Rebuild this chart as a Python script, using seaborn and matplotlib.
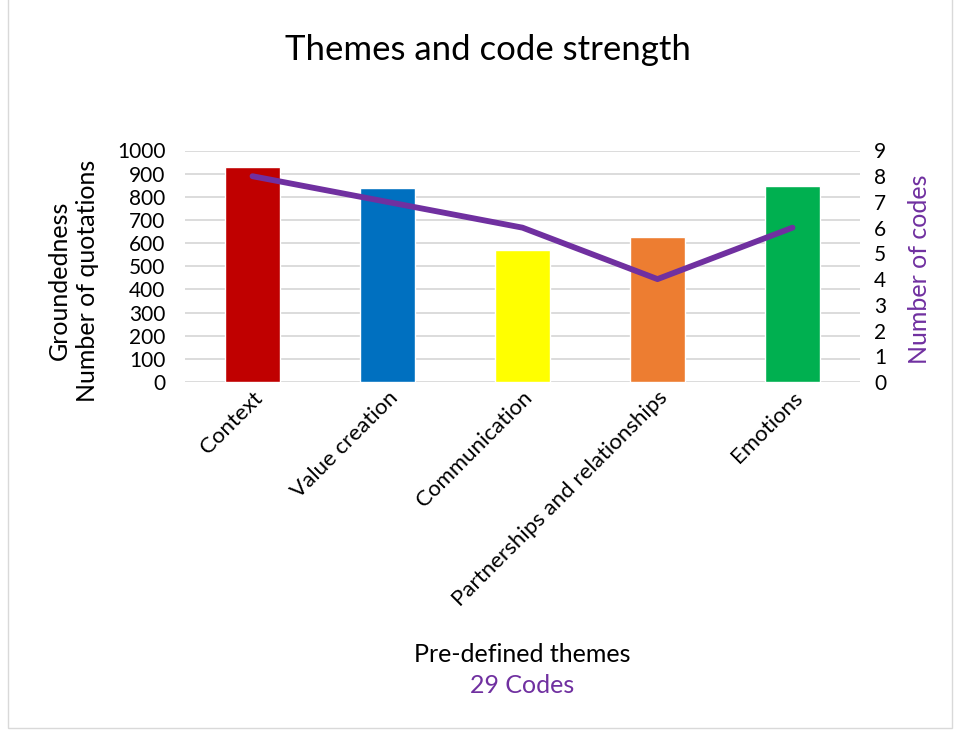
# Themes and code strength - bars (quotations) with a line (codes) on a twin axis

import matplotlib
matplotlib.use("Agg")
import matplotlib.pyplot as plt
from matplotlib.patches import Rectangle
import seaborn as sns

# Data
themes = ["Context", "Value creation", "Communication",
          "Partnerships and relationships", "Emotions"]
quotations = [930, 838, 572, 628, 848]
codes = [8, 7, 6, 4, 6]
bar_colors = ["#C00000", "#0070C0", "#FFFF00", "#ED7D31", "#00B050"]
line_color = "#7030A0"

sns.set_style("white")
plt.rcParams["font.family"] = ["Lato", "DejaVu Sans"]
plt.rcParams["text.color"] = "black"
plt.rcParams["xtick.color"] = "black"
plt.rcParams["ytick.color"] = "black"

fig = plt.figure(figsize=(9.55, 7.31), dpi=100)
ax = fig.add_axes([185 / 955, 1 - 382 / 731, 675 / 955, 231.5 / 731])

# bars
sns.barplot(x=themes, y=quotations, hue=themes, palette=bar_colors,
            width=0.41, legend=False, ax=ax, saturation=1)
ax.set_ylim(0, 1000)
ax.set_yticks(range(0, 1001, 100))
ax.yaxis.grid(True, color="#D9D9D9", linewidth=1.3)
ax.set_axisbelow(True)
ax.set_xlim(-0.5, 4.5)
for s in ax.spines.values():
    s.set_visible(False)
ax.tick_params(axis="y", labelsize=15, length=0, pad=14)
ax.tick_params(axis="x", labelsize=16, length=0, pad=4)
ax.set_xticks(range(len(themes)))
ax.set_xticklabels(themes, rotation=45, ha="right", rotation_mode="anchor")
ax.set_xlabel("")
ax.set_ylabel("")

# line on the secondary axis
ax2 = ax.twinx()
sns.pointplot(x=themes, y=codes, color=line_color, ax=ax2,
              markers="", linewidth=4.2)
ax2.set_ylim(0, 9)
ax2.set_yticks(range(0, 10))
ax2.set_xlim(-0.5, 4.5)
for s in ax2.spines.values():
    s.set_visible(False)
ax2.tick_params(axis="y", labelsize=15, length=0, pad=10)
ax2.set_ylabel("")
for ln in ax2.lines:
    ln.set_solid_capstyle("round")
    ln.set_solid_joinstyle("round")

# texts
fig.text(0.511, 0.932, "Themes and code strength", ha="center", va="center",
         fontsize=25)
fig.text(0.077, 0.616, "Groundedness\nNumber of quotations", ha="center",
         va="center", rotation=90, fontsize=18, linespacing=1.25)
fig.text(0.963, 0.632, "Number of codes", ha="center", va="center",
         rotation=90, fontsize=18, color=line_color)
fig.text(0.547, 0.104, "Pre-defined themes", ha="center", va="center",
         fontsize=18)
fig.text(0.547, 0.062, "29 Codes", ha="center", va="center",
         fontsize=18, color=line_color)

# chart border
fig.patches.append(Rectangle((8 / 955, 3 / 731), 944 / 955, 1.2,
                             transform=fig.transFigure, fill=False,
                             edgecolor="#D9D9D9", linewidth=1))

fig.savefig("out.png", dpi=100)
